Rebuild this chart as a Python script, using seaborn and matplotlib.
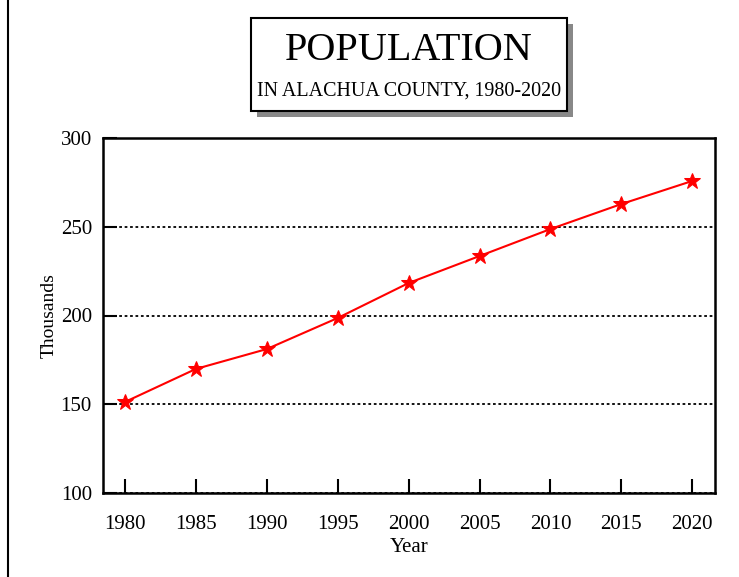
import matplotlib
matplotlib.use("Agg")
import matplotlib.pyplot as plt
from matplotlib.patches import Rectangle
from matplotlib.lines import Line2D
import seaborn as sns
import pandas as pd

# Alachua County population, thousands
years = [1980, 1985, 1990, 1995, 2000, 2005, 2010, 2015, 2020]
population = [151.3, 169.9, 181.1, 198.6, 218.3, 233.5, 248.7, 262.8, 275.8]
y_ticks = [100, 150, 200, 250, 300]

df = pd.DataFrame({"Year": years, "Thousands": population})

sns.set_style("white")
plt.rcParams["font.family"] = ["Liberation Serif", "DejaVu Serif"]
plt.rcParams["text.color"] = "black"
plt.rcParams["axes.labelcolor"] = "black"

W, H = 739, 577
fig = plt.figure(figsize=(W / 100, H / 100), dpi=100)
ax = fig.add_axes([103 / W, 1 - 493 / H, 612 / W, 355 / H])

sns.lineplot(data=df, x="Year", y="Thousands", ax=ax, color="red",
             marker="*", markersize=12, markeredgecolor="red", linewidth=1.5)

ax.set_xlim(1978.45, 2021.6)
ax.set_ylim(100, 300)
ax.set_xticks(years)
ax.set_yticks(y_ticks)
ax.tick_params(direction="in", length=10, width=1.5, labelsize=15,
               colors="black", bottom=True, left=True)
ax.tick_params(axis="x", pad=16)
ax.tick_params(axis="y", pad=8)
for s in ax.spines.values():
    s.set_color("black")
    s.set_linewidth(1.8)
ax.yaxis.grid(True, linestyle=(0, (1.5, 1.5)), color="black", linewidth=1.3)
ax.set_xlabel("Year", fontsize=15, labelpad=3, color="black")
ax.set_ylabel("Thousands", fontsize=14, labelpad=2, color="black")

# title box with drop shadow
bx, by, bw, bh = 251, 18, 316, 93
fig.patches.append(Rectangle(((bx + 6) / W, 1 - (by + bh + 6) / H), bw / W, bh / H,
                             transform=fig.transFigure, facecolor="#888888",
                             edgecolor="none", zorder=1))
fig.patches.append(Rectangle((bx / W, 1 - (by + bh) / H), bw / W, bh / H,
                             transform=fig.transFigure, facecolor="white",
                             edgecolor="black", linewidth=1.5, zorder=2))
fig.text((bx + bw / 2) / W, 1 - 50 / H, "POPULATION", ha="center", va="center",
         fontsize=29, color="black", zorder=3)
fig.text((bx + bw / 2) / W, 1 - 91 / H, "IN ALACHUA COUNTY, 1980-2020",
         ha="center", va="center", fontsize=14.4, color="black", zorder=3)

# left page border
fig.add_artist(Line2D([8 / W, 8 / W], [0, 1], transform=fig.transFigure,
                      color="black", linewidth=1.5))

fig.savefig("out.png", dpi=100)
